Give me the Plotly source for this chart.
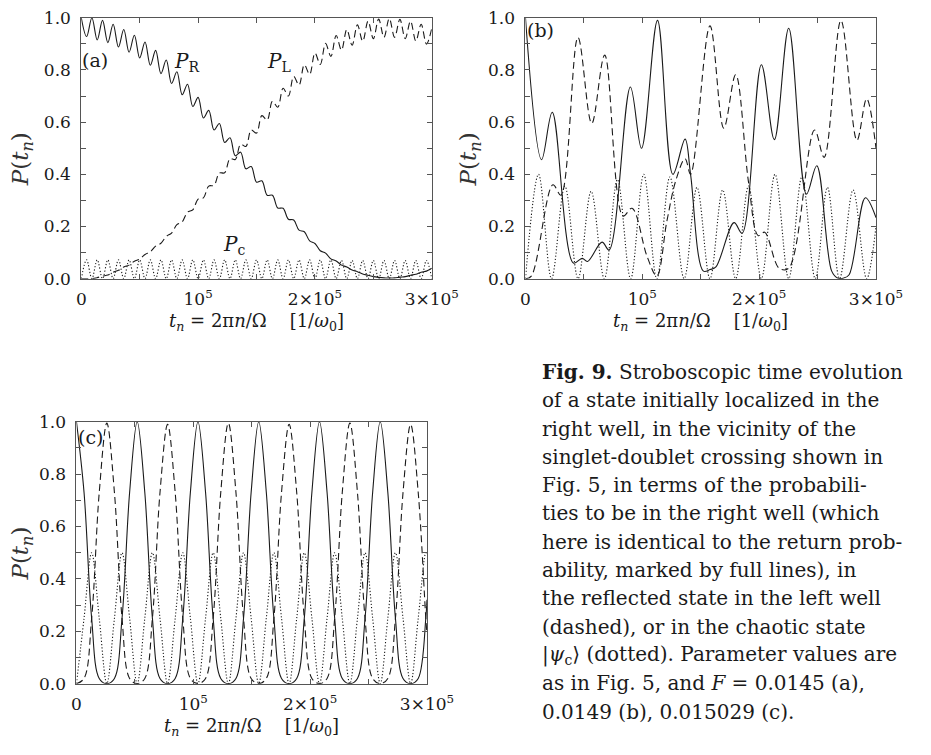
import plotly.graph_objects as go

# ---------------- data ----------------
# Panel (a): samples at successive extrema of the fast oscillation
t_a = [0, 4545, 9090, 13635, 18180, 22725, 27270, 31815, 36360, 40905, 45450, 49995,
       54540, 59085, 63630, 68175, 72720, 77265, 81810, 86355, 90900, 95445, 99990,
       104535, 109080, 113625, 118170, 122715, 127260, 131805, 136350, 140895, 145440,
       149985, 154530, 159075, 163620, 168165, 172710, 177255, 181800, 186345, 190890,
       195435, 199980, 204525, 209070, 213615, 218160, 222705, 227250, 231795, 236340,
       240885, 245430, 249975, 254520, 259065, 263610, 268155, 272700, 277245, 281790,
       286335, 290880, 295425, 300000]
pr_a = [1.0, 0.928, 1.0, 0.915, 0.99, 0.905, 0.975, 0.888, 0.955, 0.868, 0.933, 0.846,
        0.907, 0.818, 0.875, 0.786, 0.838, 0.748, 0.793, 0.705, 0.745, 0.66, 0.695, 0.616,
        0.645, 0.57, 0.595, 0.522, 0.54, 0.471, 0.485, 0.421, 0.43, 0.37, 0.375, 0.32,
        0.32, 0.271, 0.27, 0.228, 0.225, 0.186, 0.18, 0.145, 0.135, 0.107, 0.098, 0.076,
        0.068, 0.052, 0.045, 0.033, 0.027, 0.018, 0.013, 0.008, 0.005, 0.003, 0.003, 0.003,
        0.006, 0.008, 0.013, 0.017, 0.025, 0.029, 0.04]
pl_a = [0.0, 0.0, 0.0, 0.004, 0.01, 0.014, 0.025, 0.032, 0.045, 0.052, 0.067, 0.075,
        0.093, 0.103, 0.125, 0.136, 0.162, 0.175, 0.207, 0.218, 0.255, 0.264, 0.305, 0.31,
        0.355, 0.358, 0.405, 0.406, 0.46, 0.457, 0.515, 0.507, 0.57, 0.558, 0.625, 0.608,
        0.68, 0.657, 0.73, 0.70, 0.775, 0.742, 0.82, 0.783, 0.865, 0.821, 0.902, 0.852,
        0.932, 0.876, 0.955, 0.895, 0.973, 0.91, 0.987, 0.92, 0.995, 0.925, 0.997, 0.925,
        0.994, 0.92, 0.987, 0.911, 0.975, 0.899, 0.96]
pc_a = [0, 0.072, 0, 0.072, 0, 0.072, 0, 0.072, 0, 0.072, 0, 0.072,
        0, 0.072, 0, 0.072, 0, 0.072, 0, 0.072, 0, 0.072, 0, 0.072,
        0, 0.072, 0, 0.072, 0, 0.072, 0, 0.072, 0, 0.072, 0, 0.072,
        0, 0.072, 0, 0.072, 0, 0.072, 0, 0.072, 0, 0.072, 0, 0.072,
        0, 0.07, 0, 0.07, 0, 0.07, 0, 0.07, 0, 0.07, 0, 0.07,
        0, 0.07, 0, 0.07, 0, 0.07, 0]

# Panel (b)
t_pr_b = [0, 13800, 22900, 41000, 48500, 53100, 65500, 71600, 89800, 99300, 113000,
          126200, 136600, 141300, 152300, 158000, 163000, 178500, 185400, 201900, 213000,
          225300, 240500, 249300, 262000, 267000, 272000, 277000, 290900, 300000]
pr_b = [1.0, 0.456, 0.638, 0.06, 0.078, 0.066, 0.14, 0.11, 0.735, 0.50, 0.99,
        0.40, 0.535, 0.40, 0.029, 0.035, 0.045, 0.215, 0.174, 0.82, 0.533,
        0.96, 0.324, 0.433, 0.03, 0.003, 0.002, 0.015, 0.31, 0.234]
t_pl_b = [0, 5000, 23500, 30300, 44900, 56700, 67800, 83500, 91200, 104100, 112400,
          121000, 128900, 136600, 141300, 157900, 169700, 179900, 190900, 199200, 204700,
          217100, 225300, 247400, 255600, 270000, 283700, 292000, 300000]
pl_b = [0.0, 0.01, 0.36, 0.32, 0.925, 0.595, 0.857, 0.24, 0.27, 0.085, 0.01,
        0.22, 0.38, 0.46, 0.40, 0.969, 0.577, 0.782, 0.37, 0.165, 0.178,
        0.04, 0.04, 0.57, 0.465, 0.99, 0.53, 0.69, 0.50]
t_pc_b = [0, 11200, 22300, 33700, 45000, 56200, 67500, 78700, 90000, 101200, 112400,
          123600, 135800, 146800, 157900, 168800, 179900, 190900, 201900, 213600, 225300,
          236600, 248000, 258400, 268800, 280400, 292000, 300000]
pc_b = [0, 0.40, 0, 0.355, 0, 0.335, 0, 0.38, 0, 0.40, 0,
        0.39, 0, 0.35, 0, 0.34, 0, 0.355, 0, 0.40, 0,
        0.39, 0, 0.35, 0, 0.34, 0, 0.2]

# Panel (c): samples every 1/8 of the oscillation period
t_c = [0, 6500, 13000, 19500, 26000, 32500, 39000, 45500, 52000, 58500, 65000, 71500,
       78000, 84500, 91000, 97500, 104000, 110500, 117000, 123500, 130000, 136500, 143000,
       149500, 156000, 162500, 169000, 175500, 182000, 188500, 195000, 201500, 208000,
       214500, 221000, 227500, 234000, 240500, 247000, 253500, 260000, 266500, 273000,
       279500, 286000, 292500, 299000, 300000]
pr_c = [1, 0.73, 0.25, 0.02, 0, 0.02, 0.25, 0.73,
        1, 0.73, 0.25, 0.02, 0, 0.02, 0.25, 0.73,
        1, 0.73, 0.25, 0.02, 0, 0.02, 0.25, 0.73,
        1, 0.73, 0.25, 0.02, 0, 0.02, 0.25, 0.73,
        1, 0.73, 0.25, 0.02, 0, 0.02, 0.25, 0.73,
        1, 0.73, 0.25, 0.02, 0, 0.02, 0.25, 0.32]
pl_c = [0, 0.02, 0.25, 0.73, 0.995, 0.73, 0.25, 0.02,
        0, 0.02, 0.25, 0.73, 0.99, 0.73, 0.25, 0.02,
        0, 0.02, 0.25, 0.73, 0.995, 0.73, 0.25, 0.02,
        0, 0.02, 0.25, 0.73, 0.99, 0.73, 0.25, 0.02,
        0, 0.02, 0.25, 0.73, 0.995, 0.73, 0.25, 0.02,
        0, 0.02, 0.25, 0.73, 0.99, 0.73, 0.25, 0.19]
pc_c = [0, 0.25, 0.5, 0.25, 0, 0.25, 0.5, 0.25,
        0, 0.25, 0.5, 0.25, 0, 0.25, 0.5, 0.25,
        0, 0.25, 0.5, 0.25, 0, 0.25, 0.5, 0.25,
        0, 0.25, 0.5, 0.25, 0, 0.25, 0.5, 0.25,
        0, 0.25, 0.5, 0.25, 0, 0.25, 0.5, 0.25,
        0, 0.25, 0.5, 0.25, 0, 0.25, 0.5, 0.49]

x_tickvals = [0, 100000, 200000, 300000]
x_ticktext = ["0", "10<sup>5</sup>", "2×10<sup>5</sup>", "3×10<sup>5</sup>"]

caption_lines = [
    "<b>Fig. 9.</b> Stroboscopic time evolution",
    "of a state initially localized in the",
    "right well, in the vicinity of the",
    "singlet-doublet crossing shown in",
    "Fig. 5, in terms of the probabili-",
    "ties to be in the right well (which",
    "here is identical to the return prob-",
    "ability, marked by full lines), in",
    "the reflected state in the left well",
    "(dashed), or in the chaotic state",
    "|<i>ψ</i><sub>c</sub>⟩ (dotted). Parameter values are",
    "as in Fig. 5, and <i>F</i> = 0.0145 (a),",
    "0.0149 (b), 0.015029 (c).",
]

# ---------------- layout helpers ----------------
W, H = 931, 755
FONT = "DejaVu Serif"
INK = "#1a1a1a"


def fx(px):
    return px / W


def fy(py):
    return 1 - py / H


fig = go.Figure()

styles = {
    "solid": dict(color=INK, width=1.1, dash="solid"),
    "dash": dict(color=INK, width=1.1, dash="7px,4px"),
    "dot": dict(color=INK, width=1.1, dash="1.2px,2px"),
}


def add(x, y, style, ax):
    fig.add_trace(go.Scatter(
        x=x, y=y, mode="lines",
        line=dict(shape="spline", smoothing=1.0, **styles[style]),
        xaxis="x" + ax, yaxis="y" + ax, showlegend=False, hoverinfo="skip"))


add(t_a, pr_a, "solid", "")
add(t_a, pl_a, "dash", "")
add(t_a, pc_a, "dot", "")
add(t_pr_b, pr_b, "solid", "2")
add(t_pl_b, pl_b, "dash", "2")
add(t_pc_b, pc_b, "dot", "2")
add(t_c, pr_c, "solid", "3")
add(t_c, pl_c, "dash", "3")
add(t_c, pc_c, "dot", "3")

common = dict(showline=True, linecolor="#555", linewidth=1, mirror="ticks",
              ticks="inside", ticklen=5, tickwidth=1, tickcolor="#555",
              showgrid=False, zeroline=False,
              tickfont=dict(family=FONT, size=17, color=INK))


def xax(dom, anchor):
    d = dict(common)
    d.update(domain=dom, anchor=anchor, range=[0, 300000], tickmode="array",
             tickvals=x_tickvals, ticktext=x_ticktext, ticklabelstandoff=5,
             minor=dict(tickmode="array", tickvals=[50000, 150000, 250000],
                        ticks="inside", ticklen=5, tickcolor="#555", tickwidth=1))
    return d


def yax(dom, anchor):
    d = dict(common)
    d.update(domain=dom, anchor=anchor, range=[0, 1], tickmode="linear", tick0=0,
             dtick=0.2, tickformat=".1f", ticklabelstandoff=6,
             minor=dict(dtick=0.1, ticks="inside", ticklen=5, tickcolor="#555", tickwidth=1))
    return d


ya_dom = [fy(276), fy(8)]
fig.update_layout(
    width=W, height=H, margin=dict(l=0, r=0, t=0, b=0),
    paper_bgcolor="white", plot_bgcolor="white",
    xaxis=xax([fx(79), fx(442)], "y"),
    yaxis=yax(ya_dom, "x"),
    xaxis2=xax([fx(539), fx(902)], "y2"),
    yaxis2=yax(ya_dom, "x2"),
    xaxis3=xax([fx(74), fx(437)], "y3"),
    yaxis3=yax([fy(692), fy(423)], "x3"),
)

ann = []


def text(px, py, s, size=17, xanchor="center", angle=0, color=INK):
    ann.append(dict(x=fx(px), y=fy(py), xref="paper", yref="paper", text=s,
                    showarrow=False, xanchor=xanchor, yanchor="middle",
                    textangle=angle, font=dict(family=FONT, size=size, color=color)))


xtitle = "<i>t<sub>n</sub></i> = 2π<i>n</i>/Ω\u00a0\u00a0\u00a0\u00a0[1/<i>ω</i><sub>0</sub>]"
ytitle = "<i>P</i>(<i>t<sub>n</sub></i>)"

text(260, 320, xtitle, 18)
text(720, 320, xtitle, 18)
text(255, 736, xtitle, 18)
text(18, 153, ytitle, 23, angle=-90, color="#333")
text(482, 153, ytitle, 23, angle=-90, color="#333")
text(18, 558, ytitle, 23, angle=-90, color="#333")

text(93, 51, "(a)", 19)
text(555, 21, "(b)", 19)
text(89, 439, "(c)", 19)
text(188, 53, "<i>P</i><sub>R</sub>", 20)
text(284, 53, "<i>P</i><sub>L</sub>", 20)
text(237, 241, "<i>P</i><sub>c</sub>", 20)

for i, line in enumerate(caption_lines):
    text(554, 371.7 + 29.1 * i, line, 20, xanchor="left")

fig.update_layout(annotations=ann)
fig.write_html("out.html")
